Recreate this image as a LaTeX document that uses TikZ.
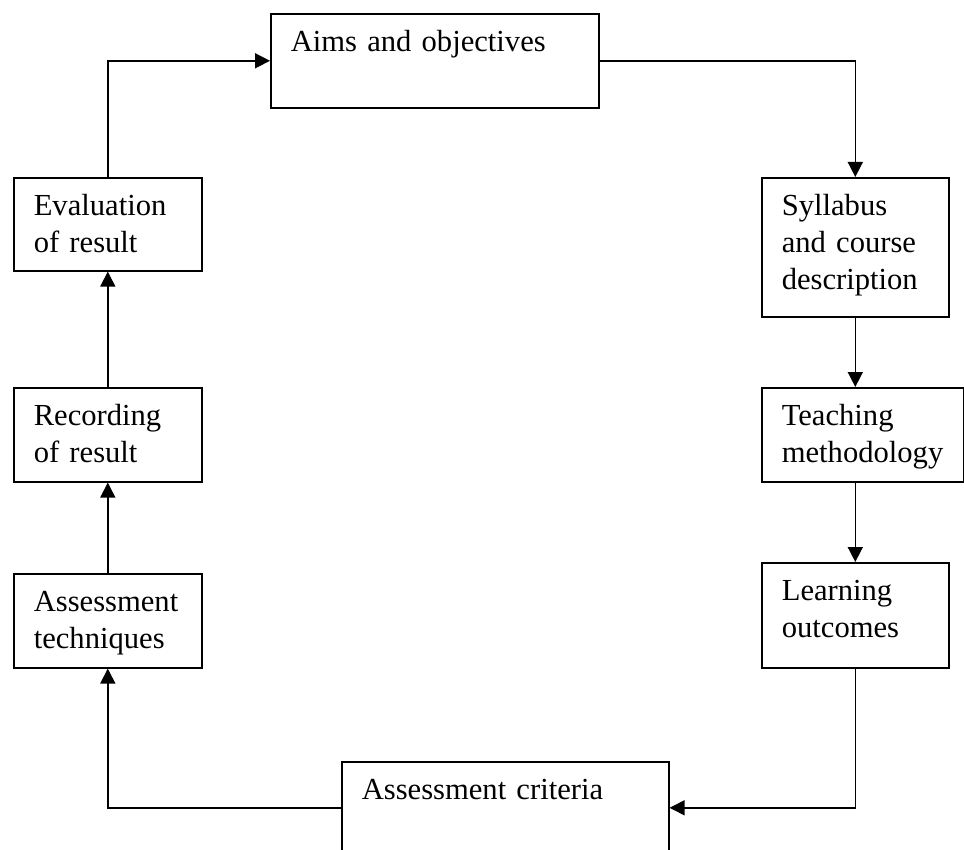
\documentclass[tikz,border=0pt]{standalone}
\usepackage{fontspec}
\setmainfont{Liberation Serif}
\usetikzlibrary{arrows.meta}
\hyphenpenalty=10000
\exhyphenpenalty=10000

\begin{document}
\begin{tikzpicture}[x=1pt, y=-1pt,
		stage/.style={draw=black, line width=1.6pt, anchor=north west, align=left,
			inner xsep=20pt, inner ysep=0pt, text height=38pt,
			font=\fontsize{30.6}{37}\selectfont},
		flow/.style={-{Triangle[length=15pt,width=15pt]}, color=black, line width=1.6pt}]
		\useasboundingbox (0, 0) rectangle (964, 850);
		\clip (0, 0) rectangle (964, 850);
		
		\node[stage, text width=288pt, text depth=56pt] (aims) at (270, 13) {Aims and objectives};
		\node[stage, text width=147pt, text depth=101pt] (syllabus) at (761, 177) {Syllabus\\and course\\description};
		\node[stage, text width=162pt, text depth=56pt] (teaching) at (761, 387) {Teaching\\methodology};
		\node[stage, text width=147pt, text depth=67pt] (learning) at (761, 562) {Learning\\outcomes};
		\node[stage, text width=287pt, text depth=54pt] (criteria) at (341, 761) {Assessment criteria};
		\node[stage, text width=148pt, text depth=56pt] (techniques) at (13, 573) {Assessment\\techniques};
		\node[stage, text width=148pt, text depth=56pt] (recording) at (13, 387) {Recording\\of result};
		\node[stage, text width=148pt, text depth=55pt] (evaluation) at (13, 177) {Evaluation\\of result};
		
		\draw[flow] (evaluation.north) |- (aims.west);
		\draw[flow] (aims.east) -| (syllabus.north);
		\draw[flow] (syllabus.south) -- (syllabus.south |- teaching.north);
		\draw[flow] (syllabus.south |- teaching.south) -- (syllabus.south |- learning.north);
		\draw[flow] (learning.south) |- (criteria.east);
		\draw[flow] (criteria.west) -| (techniques.south);
		\draw[flow] (techniques.north) -- (recording.south);
		\draw[flow] (recording.north) -- (evaluation.south);
\end{tikzpicture}
\end{document}
